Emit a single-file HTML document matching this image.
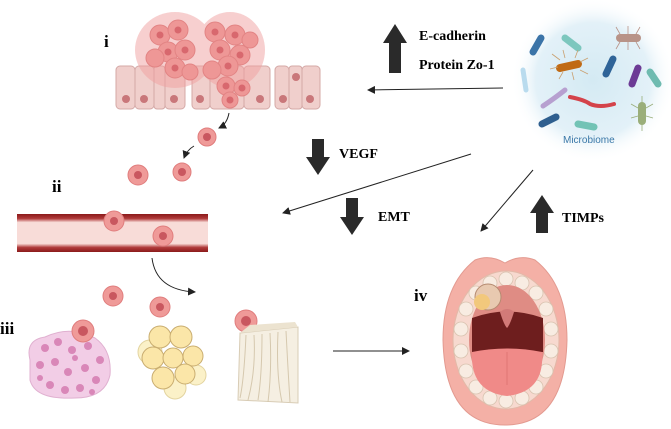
<!DOCTYPE html>
<html><head><meta charset="utf-8"><style>
body{margin:0;background:#fff;width:671px;height:429px;overflow:hidden}
svg{display:block}
text{font-family:"Liberation Serif",serif}
</style></head><body>
<svg width="671" height="429" viewBox="0 0 671 429" xmlns="http://www.w3.org/2000/svg">
<defs>
<marker id="ah" markerWidth="8" markerHeight="8" refX="7" refY="4" orient="auto"><path d="M0,0 L8,4 L0,8 Z" fill="#222"/></marker>
<radialGradient id="mb" cx="50%" cy="50%" r="50%"><stop offset="0" stop-color="#d4eaf3"/><stop offset="0.7" stop-color="#e3f1f8"/><stop offset="1" stop-color="#fff" stop-opacity="0"/></radialGradient>
<linearGradient id="vs" x1="0" y1="0" x2="0" y2="1"><stop offset="0" stop-color="#8b1a1a"/><stop offset="0.12" stop-color="#b03a3a"/><stop offset="0.22" stop-color="#f8dcd8"/><stop offset="0.78" stop-color="#f8dcd8"/><stop offset="0.88" stop-color="#b03a3a"/><stop offset="1" stop-color="#8b1a1a"/></linearGradient>
</defs>
<!-- epithelium -->
<g stroke="#d4a8a6" stroke-width="1" fill="#f0cfcc">
<rect x="116" y="66" width="19" height="43" rx="4"/><rect x="135" y="66" width="19" height="43" rx="4"/><rect x="154" y="66" width="11" height="43" rx="3"/><rect x="165" y="66" width="20" height="43" rx="4"/><rect x="192" y="66" width="18" height="43" rx="4"/><rect x="210" y="66" width="34" height="43" rx="4"/><rect x="244" y="66" width="26" height="43" rx="4"/><rect x="275" y="66" width="14" height="43" rx="4"/><rect x="289" y="66" width="13" height="43" rx="3"/><rect x="302" y="66" width="18" height="43" rx="4"/>
</g>
<g fill="#c9777a"><circle cx="126" cy="99" r="4"/><circle cx="144" cy="99" r="4"/><circle cx="174" cy="99" r="4"/><circle cx="200" cy="99" r="4"/><circle cx="260" cy="99" r="4"/><circle cx="283" cy="99" r="4"/><circle cx="310" cy="99" r="4"/><circle cx="296" cy="77" r="4"/></g>
<!-- tumor cluster -->
<g fill="#f0a0a0" opacity="0.5"><ellipse cx="175" cy="50" rx="40" ry="38"/><ellipse cx="230" cy="50" rx="35" ry="38"/></g>
<g fill="#ee9796" stroke="#e28484" stroke-width="1">
<circle cx="160" cy="35" r="10"/><circle cx="178" cy="30" r="10"/><circle cx="168" cy="52" r="10"/><circle cx="185" cy="50" r="10"/><circle cx="175" cy="68" r="10"/><circle cx="155" cy="58" r="9"/><circle cx="190" cy="72" r="8"/>
<circle cx="215" cy="32" r="10"/><circle cx="235" cy="35" r="10"/><circle cx="220" cy="50" r="10"/><circle cx="240" cy="55" r="10"/><circle cx="228" cy="66" r="10"/><circle cx="212" cy="70" r="9"/><circle cx="226" cy="86" r="9"/><circle cx="242" cy="88" r="8"/><circle cx="230" cy="100" r="8"/><circle cx="250" cy="40" r="8"/>
</g>
<g fill="#d8686e"><circle cx="160" cy="35" r="3.5"/><circle cx="178" cy="30" r="3.5"/><circle cx="168" cy="52" r="3.5"/><circle cx="185" cy="50" r="3.5"/><circle cx="175" cy="68" r="3.5"/><circle cx="215" cy="32" r="3.5"/><circle cx="235" cy="35" r="3.5"/><circle cx="220" cy="50" r="3.5"/><circle cx="240" cy="55" r="3.5"/><circle cx="228" cy="66" r="3.5"/><circle cx="226" cy="86" r="3.5"/><circle cx="242" cy="88" r="3.5"/><circle cx="230" cy="100" r="3.5"/></g>
<text x="104" y="47" font-size="17" font-weight="bold">i</text>
<!-- migrating cells -->
<g fill="#ef9a98" stroke="#e07d7d"><circle cx="207" cy="137" r="9"/><circle cx="182" cy="172" r="9"/><circle cx="138" cy="175" r="10"/></g>
<g fill="#c9575f"><circle cx="207" cy="137" r="4"/><circle cx="182" cy="172" r="4"/><circle cx="138" cy="175" r="4"/></g>
<path d="M229,113 Q227,124 219,128" fill="none" stroke="#222" marker-end="url(#ah)"/>
<path d="M194,146 Q187,150 184,158" fill="none" stroke="#222" marker-end="url(#ah)"/>
<!-- vessel -->
<rect x="17" y="214" width="191" height="38" fill="url(#vs)"/>
<g fill="#ef9a98" stroke="#e07d7d"><circle cx="114" cy="221" r="10"/><circle cx="163" cy="236" r="10"/></g>
<g fill="#c9575f"><circle cx="114" cy="221" r="4"/><circle cx="163" cy="236" r="4"/></g>
<text x="52" y="192" font-size="17" font-weight="bold">ii</text>
<path d="M152,258 Q156,290 195,292" fill="none" stroke="#222" marker-end="url(#ah)"/>
<text x="0" y="334" font-size="17" font-weight="bold">iii</text>
<!-- tissues -->
<path d="M30,360 Q25,340 45,337 Q70,325 95,338 Q112,350 110,375 Q105,398 75,398 Q35,400 30,380 Z" fill="#f2cde6" stroke="#e0b0d0"/>
<g fill="#d987b8"><circle cx="45" cy="348" r="4"/><circle cx="58" cy="342" r="4"/><circle cx="72" cy="350" r="4"/><circle cx="88" cy="346" r="4"/><circle cx="100" cy="360" r="4"/><circle cx="40" cy="365" r="4"/><circle cx="55" cy="362" r="4"/><circle cx="68" cy="372" r="4"/><circle cx="85" cy="368" r="4"/><circle cx="96" cy="380" r="4"/><circle cx="50" cy="385" r="4"/><circle cx="65" cy="390" r="4"/><circle cx="80" cy="388" r="4"/><circle cx="40" cy="378" r="3"/><circle cx="75" cy="358" r="3"/><circle cx="92" cy="392" r="3"/></g>
<g fill="#fbf1c8" stroke="#e3d4a0"><circle cx="150" cy="352" r="12"/><circle cx="196" cy="375" r="10"/><circle cx="175" cy="388" r="11"/></g>
<g fill="#fbe6a8" stroke="#c9ad70"><circle cx="160" cy="337" r="11"/><circle cx="181" cy="337" r="11"/><circle cx="153" cy="358" r="11"/><circle cx="173" cy="358" r="10"/><circle cx="193" cy="356" r="10"/><circle cx="163" cy="378" r="11"/><circle cx="185" cy="374" r="10"/></g>
<g fill="#ef9a98" stroke="#e07d7d"><circle cx="113" cy="296" r="10"/><circle cx="160" cy="307" r="10"/><circle cx="83" cy="331" r="11"/><circle cx="246" cy="321" r="11"/></g>
<g fill="#c9575f"><circle cx="113" cy="296" r="4"/><circle cx="160" cy="307" r="4"/><circle cx="83" cy="331" r="5"/><circle cx="246" cy="321" r="5"/></g>
<path d="M240,333 L298,327 L298,403 L238,400 Z" fill="#f5efe2" stroke="#d8ccb5"/>
<path d="M240,333 L298,327 L295,322 L250,325 Z" fill="#ece3d0"/>
<g stroke="#d5c8ae" fill="none"><path d="M246,335 Q244,380 240,398"/><path d="M254,335 Q256,370 248,400"/><path d="M262,334 Q262,375 258,400"/><path d="M270,333 Q272,370 268,402"/><path d="M278,332 Q276,375 282,402"/><path d="M286,331 Q288,370 290,402"/></g>
<line x1="333" y1="351" x2="409" y2="351" stroke="#222" marker-end="url(#ah)"/>
<!-- microbiome -->
<circle cx="593" cy="80" r="82" fill="url(#mb)"/>
<g stroke-linecap="round" stroke-width="7" fill="none">
<line x1="533" y1="52" x2="541" y2="38" stroke="#3b74a8"/>
<line x1="565" y1="38" x2="578" y2="48" stroke="#7cc7be"/>
<line x1="620" y1="38" x2="637" y2="38" stroke="#b89388" stroke-width="8"/>
<line x1="560" y1="68" x2="578" y2="64" stroke="#c06a14" stroke-width="8"/>
<line x1="606" y1="74" x2="613" y2="59" stroke="#2f6498"/>
<line x1="632" y1="84" x2="638" y2="68" stroke="#6c3b95"/>
<line x1="650" y1="72" x2="658" y2="84" stroke="#6fbbb0"/>
<line x1="523" y1="70" x2="526" y2="90" stroke="#b9dbee" stroke-width="5"/>
<path d="M543 106 Q555 98 565 90" stroke="#b7a0d0" stroke-width="5"/>
<path d="M570 97 Q585 100 590 104 Q600 108 614 104" stroke="#d4434a" stroke-width="4"/>
<line x1="542" y1="124" x2="556" y2="117" stroke="#2f5f8f"/>
<line x1="578" y1="124" x2="594" y2="127" stroke="#72c3b5"/>
<line x1="642" y1="106" x2="642" y2="121" stroke="#9aae7a" stroke-width="8"/>
</g>
<g stroke="#c9a070" stroke-width="0.8" fill="none"><path d="M560 60 l-8 -6 M565 58 l-2 -8 M575 58 l3 -8 M580 62 l8 -4 M580 70 l8 4 M572 72 l2 8 M563 72 l-4 7 M558 67 l-8 2"/></g>
<g stroke="#b89388" stroke-width="0.8" fill="none"><path d="M620 34 l-4 -7 M628 34 l0 -8 M636 34 l4 -7 M620 42 l-4 7 M628 42 l0 8 M636 42 l4 7"/></g>
<g stroke="#9aae7a" stroke-width="0.8" fill="none"><path d="M638 108 l-7 -4 M638 116 l-7 2 M646 108 l7 -4 M646 116 l7 2 M642 104 l0 -8 M642 123 l0 8"/></g>
<text x="563" y="143" font-size="10" fill="#3a78a8" style="font-family:'Liberation Sans',sans-serif">Microbiome</text>
<!-- arrows -->
<line x1="503" y1="88" x2="368" y2="90" stroke="#222" marker-end="url(#ah)"/>
<line x1="471" y1="154" x2="283" y2="213" stroke="#222" marker-end="url(#ah)"/>
<line x1="533" y1="170" x2="481" y2="231" stroke="#222" marker-end="url(#ah)"/>
<!-- block arrows -->
<g fill="#2a2a2a">
<path d="M389,73 L389,43 L383,43 L395,24 L407,43 L401,43 L401,73 Z"/>
<path d="M312,139 L324,139 L324,157 L330,157 L318,175 L306,157 L312,157 Z"/>
<path d="M346,198 L358,198 L358,217 L364,217 L352,235 L340,217 L346,217 Z"/>
<path d="M536,233 L536,213 L530,213 L542,195 L554,213 L548,213 L548,233 Z"/>
</g>
<text x="419" y="40" font-size="14" font-weight="bold">E-cadherin</text>
<text x="419" y="69" font-size="14" font-weight="bold">Protein Zo-1</text>
<text x="339" y="158" font-size="14" font-weight="bold">VEGF</text>
<text x="378" y="221" font-size="14" font-weight="bold">EMT</text>
<text x="562" y="222" font-size="14" font-weight="bold">TIMPs</text>
<!-- mouth -->
<path d="M505,263 Q520,254 535,260 Q567,285 567,340 Q565,425 505,425 Q445,425 443,340 Q443,285 475,260 Q490,254 505,263 Z" fill="#f4b0a6" stroke="#e39a90"/>
<ellipse cx="506" cy="340" rx="53" ry="69" fill="#f7d9cf" stroke="#e2b9a8"/>
<g fill="#f8ece2" stroke="#d9c3b0" stroke-width="0.8">
<circle cx="506" cy="279" r="7"/><circle cx="522" cy="283" r="7"/><circle cx="536" cy="293" r="7"/><circle cx="546" cy="309" r="7"/><circle cx="551" cy="329" r="7"/><circle cx="551" cy="351" r="7"/><circle cx="546" cy="371" r="7"/><circle cx="536" cy="387" r="7"/><circle cx="522" cy="398" r="7"/><circle cx="506" cy="401" r="7"/><circle cx="490" cy="398" r="7"/><circle cx="476" cy="387" r="7"/><circle cx="466" cy="371" r="7"/><circle cx="461" cy="351" r="7"/><circle cx="461" cy="329" r="7"/><circle cx="466" cy="309" r="7"/><circle cx="476" cy="293" r="7"/><circle cx="490" cy="283" r="7"/>
</g>
<ellipse cx="507" cy="340" rx="38" ry="55" fill="#df8c84"/>
<path d="M472,318 Q507,305 543,318 L543,352 L472,352 Z" fill="#6e1e1e"/>
<path d="M500,312 Q507,306 514,312 Q510,325 507,328 Q504,325 500,312 Z" fill="#d27a78"/>
<path d="M472,352 Q507,345 542,352 Q545,392 507,396 Q470,392 472,352 Z" fill="#f08a88"/>
<line x1="507" y1="352" x2="507" y2="385" stroke="#e07575"/>
<circle cx="488" cy="297" r="13" fill="#e8c9b0" stroke="#b58a70"/>
<circle cx="482" cy="302" r="8" fill="#f2c87c"/>
<text x="414" y="301" font-size="17" font-weight="bold">iv</text>
</svg>
</body></html>
